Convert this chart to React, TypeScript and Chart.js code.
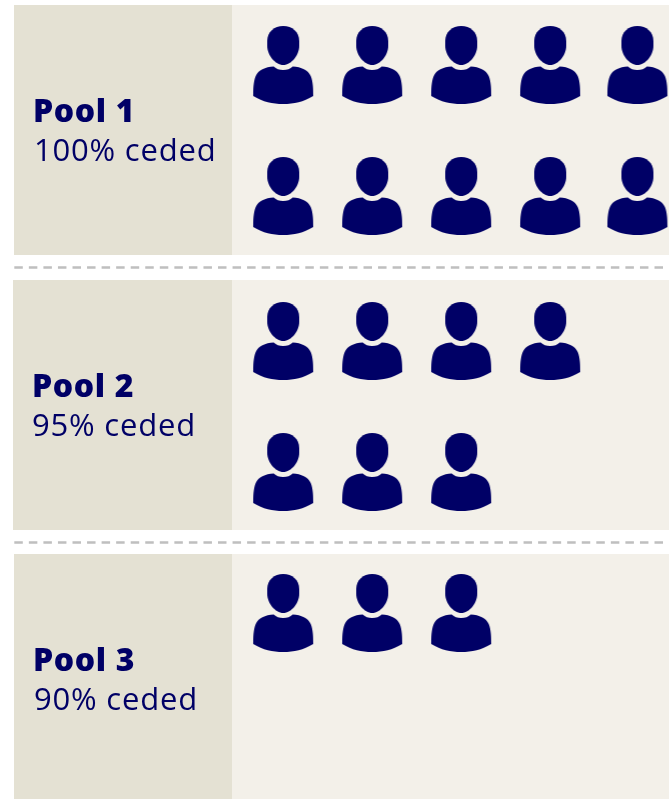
import React, { useEffect, useRef } from "react";
import { Chart, registerables } from "chart.js";

Chart.register(...registerables);

// ---- data ----
const poolNames = ["Pool 1", "Pool 2", "Pool 3"];
const cededLabels = ["100% ceded", "95% ceded", "90% ceded"];
const peoplePerRow = [
  [5, 5],
  [4, 3],
  [3],
];

// ---- layout (not data) ----
const W = 669;
const H = 799;
const NAVY = "#000066";
const DARK = "#E4E1D3";
const LIGHT = "#F3F0E9";
const COLUMN_PX = 89;
const ROW_PX = 131;
const FIRST_COLUMN_PX = 283.2;
const FIRST_ROW_PX = 65;
const columnSlots = [0, 1, 2, 3, 3.98];
const poolRowOffset = [0, 276 / ROW_PX, 548 / ROW_PX];
const panelBands = [
  { left: 14, top: 5, bottom: 255 },
  { left: 13, top: 280, bottom: 530 },
  { left: 14, top: 554, bottom: 799 },
];
const panelSplit = 232;
const dividerYs = [267.5, 542.5];
const textPos = [
  { nameX: 33, nameY: 122, subX: 34, subY: 160.5 },
  { nameX: 32, nameY: 397, subX: 32, subY: 435.5 },
  { nameX: 33, nameY: 671, subX: 34, subY: 709.5 },
];

function makePersonIcon() {
  const c = document.createElement("canvas");
  c.width = 64;
  c.height = 82;
  const g = c.getContext("2d")!;
  g.filter = "blur(0.35px)";
  g.translate(2, 2);
  g.fillStyle = NAVY;
  // head
  g.beginPath();
  g.moveTo(30, 0);
  g.bezierCurveTo(39, 0, 46, 6, 46, 15);
  g.lineTo(46, 20);
  g.bezierCurveTo(46, 29, 38, 39, 30, 39);
  g.bezierCurveTo(22, 39, 14, 29, 14, 20);
  g.lineTo(14, 15);
  g.bezierCurveTo(14, 6, 21, 0, 30, 0);
  g.closePath();
  g.fill();
  // body
  g.beginPath();
  g.moveTo(20.5, 40.5);
  g.bezierCurveTo(23, 43, 26, 44, 30, 44);
  g.bezierCurveTo(34, 44, 37, 43, 39.5, 40.5);
  g.bezierCurveTo(48, 41, 55, 44, 57.5, 50);
  g.bezierCurveTo(60, 56, 60, 64, 60, 70);
  g.bezierCurveTo(50, 76, 41, 78, 30, 78);
  g.bezierCurveTo(19, 78, 10, 76, 0, 70);
  g.bezierCurveTo(0, 64, 0, 56, 2.5, 50);
  g.bezierCurveTo(5, 44, 12, 41, 20.5, 40.5);
  g.closePath();
  g.fill();
  return c;
}

const panelPlugin = {
  id: "panels",
  beforeDatasetsDraw(chart: any) {
    const { ctx } = chart;
    ctx.save();
    panelBands.forEach((b) => {
      ctx.fillStyle = DARK;
      ctx.fillRect(b.left, b.top, panelSplit - b.left, b.bottom - b.top);
      ctx.fillStyle = LIGHT;
      ctx.fillRect(panelSplit, b.top, W - panelSplit, b.bottom - b.top);
    });
    ctx.strokeStyle = "#BFBFBF";
    ctx.lineWidth = 2.5;
    ctx.setLineDash([8.5, 6.05]);
    dividerYs.forEach((y) => {
      ctx.beginPath();
      ctx.moveTo(14.3, y);
      ctx.lineTo(665, y);
      ctx.stroke();
    });
    ctx.setLineDash([]);
    ctx.fillStyle = NAVY;
    ctx.textBaseline = "alphabetic";
    ctx.textAlign = "left";
    poolNames.forEach((name, i) => {
      const t = textPos[i];
      ctx.font = '800 32px "Open Sans"';
      (ctx as any).letterSpacing = "0.6px";
      ctx.fillText(name, t.nameX, t.nameY);
      ctx.font = '31px "Open Sans"';
      (ctx as any).letterSpacing = "0.8px";
      ctx.fillText(cededLabels[i], t.subX, t.subY);
    });
    (ctx as any).letterSpacing = "0px";
    ctx.restore();
  },
};

export default function App() {
  const ref = useRef<HTMLCanvasElement>(null);
  useEffect(() => {
    const icon = makePersonIcon();
    const points: { x: number; y: number }[] = [];
    peoplePerRow.forEach((rows, p) =>
      rows.forEach((count, r) => {
        for (let col = 0; col < count; col++) {
          points.push({ x: columnSlots[col], y: poolRowOffset[p] + r });
        }
      })
    );
    const xMin = -FIRST_COLUMN_PX / COLUMN_PX;
    const yMin = -FIRST_ROW_PX / ROW_PX;
    const chart = new Chart(ref.current!, {
      type: "scatter",
      data: {
        datasets: [
          {
            label: "People",
            data: points,
            pointStyle: icon as any,
            pointRadius: 30,
            backgroundColor: NAVY,
          },
        ],
      },
      options: {
        responsive: false,
        animation: false,
        layout: { padding: 0, autoPadding: false },
        plugins: { legend: { display: false }, tooltip: { enabled: false } },
        scales: {
          x: { type: "linear", display: false, min: xMin, max: xMin + W / COLUMN_PX },
          y: { type: "linear", display: false, reverse: true, min: yMin, max: yMin + H / ROW_PX },
        },
      },
      plugins: [panelPlugin],
    });
    return () => chart.destroy();
  }, []);
  return (
    <div style={{ position: "absolute", left: 0, top: 0, width: W, height: H, overflow: "hidden" }}>
      <canvas ref={ref} width={W} height={H} style={{ display: "block", width: W, height: H }} />
    </div>
  );
}
